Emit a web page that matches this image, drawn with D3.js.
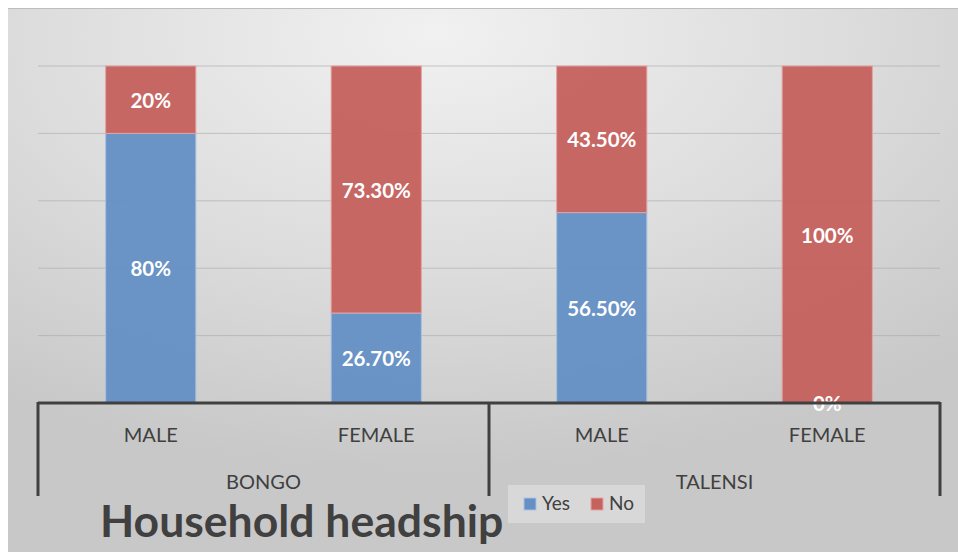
<!DOCTYPE html>
<html>
<head>
<meta charset="utf-8">
<script src="https://cdn.jsdelivr.net/npm/d3@7"></script>
<style>
  body { margin: 0; background: #fff; }
  svg { display: block; }
</style>
</head>
<body>
<div class="graph"></div>
<script>
// chart data
const districts = ["BONGO", "TALENSI"]
const sexes = ["MALE", "FEMALE"]
const yesValues = [80, 26.7, 56.5, 0]
const noValues = [20, 73.3, 43.5, 100]
const yesLabels = ["80%", "26.70%", "56.50%", "0%"]
const noLabels = ["20%", "73.30%", "43.50%", "100%"]
const seriesNames = ["Yes", "No"]
const colors = ["#6590c5", "#c5625f"]

const W = 958, H = 552
const plotL = 38, plotR = 940, plotT = 66, plotB = 403

let cats = []
districts.forEach(d => sexes.forEach(s => cats.push(d + "|" + s)))

let svg = d3.select('.graph')
  .append('svg')
  .attr('width', W)
  .attr('height', H)

// background gradient
let defs = svg.append('defs')
let grad = defs.append('radialGradient')
  .attr('id', 'bg')
  .attr('cx', '45%').attr('cy', '5%')
  .attr('r', '80%')
grad.append('stop').attr('offset', '0%').attr('stop-color', '#f1f1f1')
grad.append('stop').attr('offset', '55%').attr('stop-color', '#dcdcdc')
grad.append('stop').attr('offset', '100%').attr('stop-color', '#c8c8c8')

svg.append('rect')
  .attr('x', 8).attr('y', 8)
  .attr('width', W - 8).attr('height', H - 8)
  .attr('fill', 'url(#bg)')
svg.append('line')
  .attr('x1', 8).attr('x2', W).attr('y1', 8.5).attr('y2', 8.5)
  .attr('stroke', '#bdbdbd').attr('stroke-width', 1)

let x = d3.scaleBand()
  .domain(cats)
  .range([plotL, plotR])
  .paddingInner(0.6)
  .paddingOuter(0.3)

let y = d3.scaleLinear()
  .domain([0, 100])
  .range([plotB, plotT])

// gridlines
svg.append('g')
  .selectAll('line')
  .data(y.ticks(5))
  .enter()
  .append('line')
  .attr('x1', plotL).attr('x2', plotR)
  .attr('y1', d => y(d)).attr('y2', d => y(d))
  .attr('stroke', '#a9a9a9')
  .attr('stroke-opacity', 0.6)
  .attr('stroke-width', 1)

// stacked data
let rows = cats.map((c, i) => ({ cat: c, Yes: yesValues[i], No: noValues[i], i: i }))
let stacked = d3.stack().keys(seriesNames)(rows)
let labelSets = [yesLabels, noLabels]

stacked.forEach((layer, k) => {
  svg.append('g')
    .selectAll('rect')
    .data(layer)
    .enter()
    .append('rect')
    .attr('x', d => x(d.data.cat))
    .attr('y', d => y(d[1]))
    .attr('width', x.bandwidth())
    .attr('height', d => y(d[0]) - y(d[1]))
    .attr('fill', colors[k])
    .attr('fill-opacity', 0.96)
    .attr('stroke', k == 0 ? '#a9c1e2' : '#e3a3a1')
    .attr('stroke-width', 1)
})

// data labels
stacked.forEach((layer, k) => {
  svg.append('g')
    .selectAll('text')
    .data(layer)
    .enter()
    .append('text')
    .attr('x', d => x(d.data.cat) + x.bandwidth() / 2)
    .attr('y', d => (y(d[0]) + y(d[1])) / 2 + 8)
    .attr('text-anchor', 'middle')
    .attr('font-family', 'Lato, sans-serif')
    .attr('font-weight', 'bold')
    .attr('font-size', 20.5)
    .attr('fill', '#fff')
    .text(d => labelSets[k][d.data.i])
})

// axis line + group separators
svg.append('line')
  .attr('x1', plotL).attr('x2', plotR)
  .attr('y1', plotB).attr('y2', plotB)
  .attr('stroke', '#404040').attr('stroke-width', 3)

let seps = [plotL, (plotL + plotR) / 2, plotR]
svg.append('g')
  .selectAll('line')
  .data(seps)
  .enter()
  .append('line')
  .attr('x1', d => d).attr('x2', d => d)
  .attr('y1', plotB - 1).attr('y2', 496)
  .attr('stroke', '#404040').attr('stroke-width', 3)

// category labels
svg.append('g')
  .selectAll('text')
  .data(cats)
  .enter()
  .append('text')
  .attr('x', d => x(d) + x.bandwidth() / 2)
  .attr('y', 442)
  .attr('text-anchor', 'middle')
  .attr('font-family', 'Lato, sans-serif')
  .attr('font-size', 20)
  .attr('fill', '#404040')
  .text(d => d.split('|')[1])

svg.append('g')
  .selectAll('text')
  .data(districts)
  .enter()
  .append('text')
  .attr('x', d => (x(d + '|MALE') + x(d + '|FEMALE') + x.bandwidth()) / 2)
  .attr('y', 489)
  .attr('text-anchor', 'middle')
  .attr('font-family', 'Lato, sans-serif')
  .attr('font-size', 20)
  .attr('fill', '#404040')
  .text(d => d)

// title
svg.append('text')
  .attr('x', 100)
  .attr('y', 537)
  .attr('font-family', 'Lato, sans-serif')
  .attr('font-weight', 'bold')
  .attr('font-size', 44.5)
  .attr('fill', '#404040')
  .text('Household headship')

// legend
let lg = svg.append('g').attr('transform', 'translate(508,485)')
lg.append('rect')
  .attr('width', 137).attr('height', 38)
  .attr('fill', '#fff').attr('fill-opacity', 0.3)
let legX = [16, 83]
seriesNames.forEach((s, k) => {
  lg.append('rect')
    .attr('x', legX[k]).attr('y', 13)
    .attr('width', 12).attr('height', 12)
    .attr('fill', colors[k])
    .attr('stroke', k == 0 ? '#a9c1e2' : '#e3a3a1')
  lg.append('text')
    .attr('x', legX[k] + 18).attr('y', 25)
    .attr('font-family', 'Lato, sans-serif')
    .attr('font-size', 19)
    .attr('fill', '#404040')
    .text(s)
})
</script>
</body>
</html>
